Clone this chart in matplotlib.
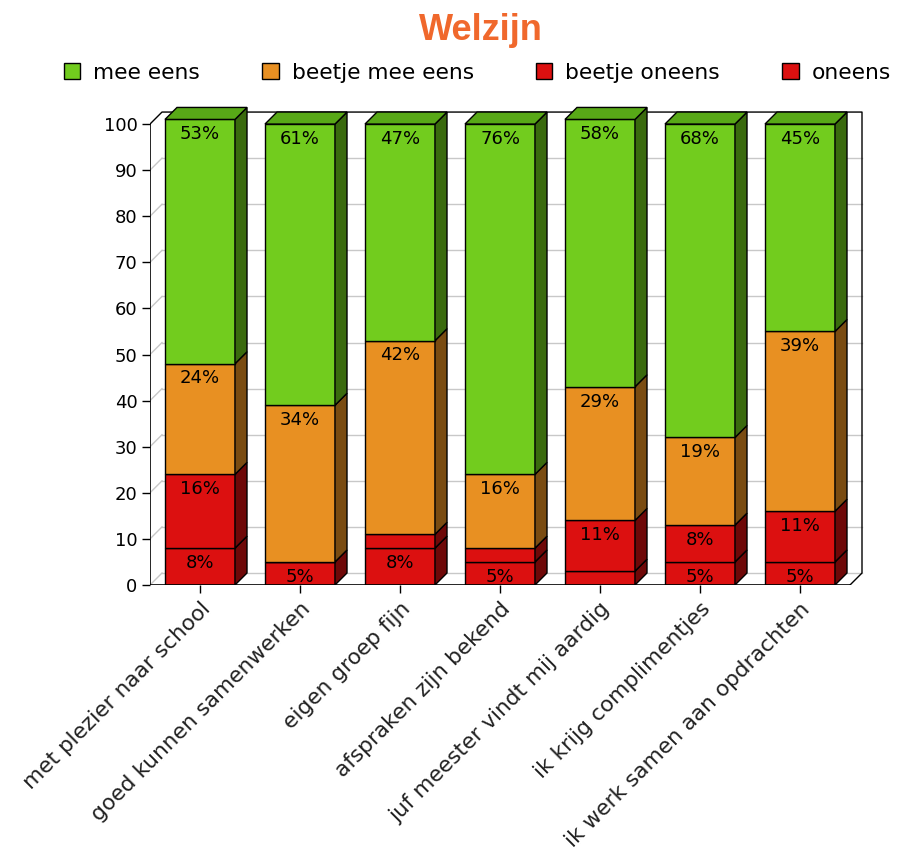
import numpy as np
import matplotlib.pyplot as plt
from matplotlib.patches import Polygon, Patch

# survey statements (x axis)
categories = [
    "met plezier naar school",
    "goed kunnen samenwerken",
    "eigen groep fijn",
    "afspraken zijn bekend",
    "juf meester vindt mij aardig",
    "ik krijg complimentjes",
    "ik werk samen aan opdrachten",
]

# percentages per answer, stacked bottom -> top
oneens = [8, 5, 8, 5, 3, 5, 5]
beetje_oneens = [16, 0, 3, 3, 11, 8, 11]
beetje_mee_eens = [24, 34, 42, 16, 29, 19, 39]
mee_eens = [53, 61, 47, 76, 58, 68, 45]

# (label, values, front, side, top)
series = [
    ("oneens", oneens, "#DC1010", "#6E0808", "#B00C0C"),
    ("beetje oneens", beetje_oneens, "#DC1010", "#6E0808", "#B00C0C"),
    ("beetje mee eens", beetje_mee_eens, "#E89022", "#7A4C12", "#C07818"),
    ("mee eens", mee_eens, "#72CC1E", "#3A6A0E", "#58A817"),
]

dx, dy = 0.12, 2.6   # fake 3d depth
width = 0.7

fig = plt.figure(figsize=(8.99, 8.51), dpi=100)
ax = fig.add_axes([150 / 899, 266 / 851, 714 / 899, 479.4 / 851])
ax.set_xlim(-0.5, 6.64)
ax.set_ylim(0, 104)
for s in ax.spines.values():
    s.set_visible(False)

n = len(categories)
x = np.arange(n)

# back wall grid + left wall diagonals
for v in range(0, 100, 10):
    ax.plot([-0.5 + dx, n - 0.5 + dx], [v + dy, v + dy], color="#C8C8C8", lw=1, zorder=1)
    ax.plot([-0.5, -0.5 + dx], [v, v + dy], color="#C8C8C8", lw=1, zorder=1)
ax.plot([-0.5, -0.5 + dx, n - 0.5 + dx, n - 0.5 + dx, n - 0.5],
        [100, 100 + dy, 100 + dy, dy, 0], color="black", lw=1, zorder=1)
ax.plot([-0.5, -0.5], [0, 100], color="black", lw=1.2, zorder=6)
ax.plot([-0.5, n - 0.5], [0, 0], color="black", lw=1.2, zorder=6)

bottom = np.zeros(n)
for i, (label, vals, front, side, top) in enumerate(series):
    vals = np.array(vals, dtype=float)
    bars = ax.bar(x, vals, width, bottom=bottom, color=front,
                  edgecolor="black", lw=1, zorder=3)
    for rect, v in zip(bars, vals):
        if v <= 0:
            continue
        x0, y0 = rect.get_x(), rect.get_y()
        x1, y1 = x0 + rect.get_width(), y0 + rect.get_height()
        ax.add_patch(Polygon([(x1, y0), (x1 + dx, y0 + dy), (x1 + dx, y1 + dy), (x1, y1)],
                             closed=True, fc=side, ec="black", lw=1, zorder=3))
        if i == len(series) - 1:
            ax.add_patch(Polygon([(x0, y1), (x0 + dx, y1 + dy), (x1 + dx, y1 + dy), (x1, y1)],
                                 closed=True, fc=top, ec="black", lw=1, zorder=3))
        if v >= 5:
            ax.text(x0 + rect.get_width() / 2, y1 - 3.2, f"{int(v)}%",
                    ha="center", va="center", fontsize=13, zorder=5, clip_on=True)
    bottom += vals

ax.set_xticks(x)
ax.set_xticklabels(categories, rotation=45, ha="right", va="top",
                   rotation_mode="anchor", fontsize=15.6, color="#222222")
ax.set_yticks(range(0, 101, 10))
ax.tick_params(axis="y", length=6, width=1, pad=3, labelsize=13)
ax.tick_params(axis="x", length=6, width=1, pad=4)

fig.text(481 / 899, 1 - 31 / 851, "Welzijn", ha="center", va="center",
         fontsize=26, fontweight="bold", color="#F0682C", family="Liberation Sans")

handles = [Patch(fc=s[2], ec="black", lw=1, label=s[0]) for s in reversed(series)]
fig.legend(handles=handles, loc="center left", bbox_to_anchor=(64 / 899, 1 - 73 / 851),
           ncol=4, frameon=False, fontsize=15.7, borderpad=0, borderaxespad=0,
           handlelength=0.75, handleheight=0.75, handletextpad=0.6, columnspacing=2.85)

fig.savefig("out.png", dpi=100)
